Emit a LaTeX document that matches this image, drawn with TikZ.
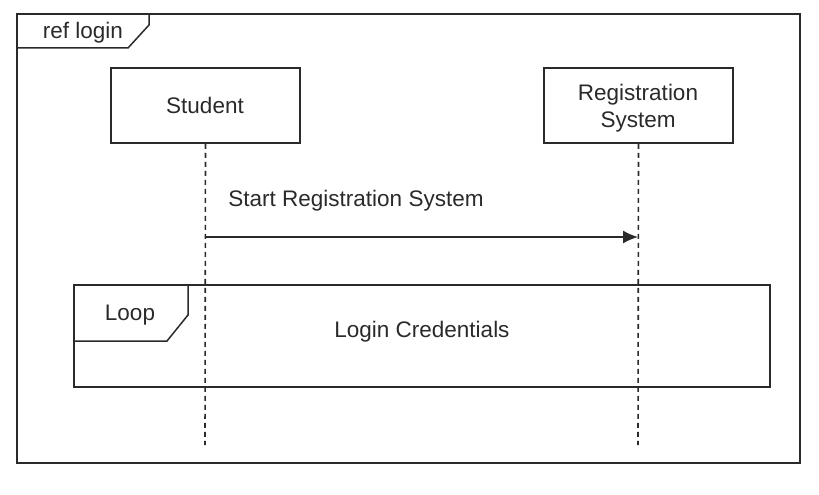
\documentclass[tikz,border=0pt]{standalone}
\usepackage{fontspec}
\setmainfont{Liberation Sans}
\usetikzlibrary{arrows.meta}
\definecolor{ink}{HTML}{2A2A2A}
\begin{document}
\begin{tikzpicture}[x=1pt,y=-1pt,
  line/.style={draw=ink,line width=1.5pt},
  lbl/.style={text=ink,font=\fontsize{22.5}{24}\selectfont,inner sep=0pt},
  actor/.style={line,minimum width=189pt,minimum height=75pt,inner sep=0pt},
  life/.style={draw=ink,line width=1.6pt,dash pattern=on 5pt off 4pt},
  msg/.style={draw=ink,line width=1.5pt,-{Latex[length=15pt,width=13pt]}}]
\useasboundingbox (0,0) rectangle (819,495);
% outer frame
\draw[line] (17,14) rectangle (800,463);
\draw[line] (149,14) -- (149,25) -- (128,48) -- (17,48);
\node[lbl] (ref) at (83,33) {ref login};
% actors
\node[actor] (stu) at (205.5,105.5) {};
\node[lbl] (stut) at (205,105) {Student};
\node[actor] (reg) at (638.5,105.5) {};
\node[lbl,align=center,font=\fontsize{22.5}{27}\selectfont] (regt) at (638,108) {Registration\\System};
% lifelines
\coordinate (stuend) at (205,445);
\coordinate (regend) at (638,445);
\draw[life] (stu.south) -- (stuend);
\draw[life] (reg.south) -- (regend);
% message
\coordinate (m1) at (205,237);
\coordinate (m2) at (638,237);
\draw[msg] (m1) -- (m2);
\node[lbl] (mt) at (356,201) {Start Registration System};
% loop fragment
\draw[line] (74,285) rectangle (770,387);
\draw[line] (188,285) -- (188,315) -- (167,341) -- (74,341);
\node[lbl] (loop) at (130,315) {Loop};
\node[lbl] (cred) at (422,332) {Login Credentials};
\end{tikzpicture}
\end{document}
